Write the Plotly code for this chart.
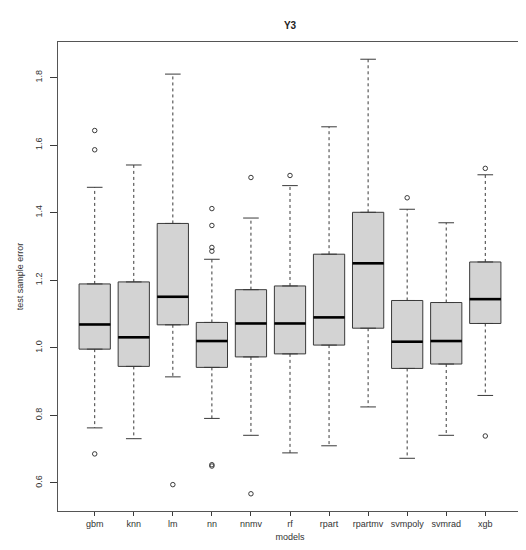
import plotly.graph_objects as go

# Y3 test sample error per model
models = ["gbm", "knn", "lm", "nn", "nnmv", "rf", "rpart", "rpartmv", "svmpoly", "svmrad", "xgb"]
q1 = [0.996, 0.945, 1.068, 0.942, 0.973, 0.982, 1.008, 1.058, 0.939, 0.952, 1.072]
med = [1.069, 1.031, 1.151, 1.020, 1.072, 1.072, 1.090, 1.250, 1.018, 1.020, 1.144]
q3 = [1.189, 1.195, 1.368, 1.075, 1.172, 1.183, 1.277, 1.401, 1.140, 1.134, 1.254]
lower = [0.763, 0.731, 0.914, 0.791, 0.741, 0.689, 0.710, 0.825, 0.673, 0.741, 0.859]
upper = [1.475, 1.541, 1.810, 1.262, 1.384, 1.480, 1.654, 1.854, 1.410, 1.370, 1.512]
outliers = [
    [1.643, 1.586, 0.686],
    [],
    [0.595],
    [1.412, 1.362, 1.297, 1.286, 0.654, 0.650],
    [1.504, 0.568],
    [1.510],
    [],
    [],
    [1.444],
    [],
    [1.531, 0.739],
]
y_ticks = [0.6, 0.8, 1.0, 1.2, 1.4, 1.6, 1.8]

pos = list(range(1, len(models) + 1))
INK = "#3a3a3a"
FONT = "Liberation Sans, Arial, sans-serif"

fig = go.Figure()

# boxes (fences set to the hinges, whiskers drawn separately so they can be dashed)
fig.add_trace(go.Box(
    x=pos, q1=q1, median=med, q3=q3, lowerfence=q1, upperfence=q3,
    width=0.8, fillcolor="#d3d3d3", line=dict(color=INK, width=1),
    boxpoints=False, showlegend=False, hoverinfo="skip",
))

# dashed whiskers
wx, wy = [], []
for p, a, b, c, d in zip(pos, q1, q3, lower, upper):
    wx += [p, p, None, p, p, None]
    wy += [b, d, None, a, c, None]
fig.add_trace(go.Scatter(x=wx, y=wy, mode="lines", line=dict(color=INK, width=1, dash="3px,3px"),
                         showlegend=False, hoverinfo="skip"))

# whisker caps
cx, cy = [], []
for p, c, d in zip(pos, lower, upper):
    cx += [p - 0.2, p + 0.2, None, p - 0.2, p + 0.2, None]
    cy += [c, c, None, d, d, None]
fig.add_trace(go.Scatter(x=cx, y=cy, mode="lines", line=dict(color=INK, width=1),
                         showlegend=False, hoverinfo="skip"))

# thick medians
mx, my = [], []
for p, m in zip(pos, med):
    mx += [p - 0.4, p + 0.4, None]
    my += [m, m, None]
fig.add_trace(go.Scatter(x=mx, y=my, mode="lines", line=dict(color="black", width=2.6),
                         showlegend=False, hoverinfo="skip"))

# outliers
ox, oy = [], []
for p, vals in zip(pos, outliers):
    ox += [p] * len(vals)
    oy += vals
fig.add_trace(go.Scatter(x=ox, y=oy, mode="markers",
                         marker=dict(symbol="circle-open", size=4.5, color=INK, line=dict(width=1)),
                         showlegend=False, hoverinfo="skip"))

fig.update_layout(
    width=526, height=550,
    margin=dict(l=49, r=11, t=34, b=47),
    paper_bgcolor="white", plot_bgcolor="white",
    font=dict(family=FONT, size=9, color="#333"),
    title=dict(text="<b>Y3</b>", x=0.5, xref="paper", y=0.975, yref="container",
               xanchor="center", font=dict(size=10, color="#222")),
)
fig.update_xaxes(
    range=[0.06, 11.94], tickvals=pos, ticktext=models,
    ticks="outside", ticklen=4, tickcolor=INK, showgrid=False, zeroline=False,
    showline=True, mirror=True, linecolor="#555", linewidth=1,
    title=dict(text="models", standoff=5, font=dict(size=9, color="#333")),
)
fig.update_yaxes(
    range=[0.517, 1.905], tickvals=y_ticks, tickformat=".1f", tickangle=-90,
    ticks="outside", ticklen=7, tickcolor=INK, showgrid=False, zeroline=False,
    showline=True, mirror=True, linecolor="#555", linewidth=1, ticklabelstandoff=4,
    title=dict(text="test sample error", standoff=9, font=dict(size=9, color="#333")),
)

fig.write_html("out.html")
